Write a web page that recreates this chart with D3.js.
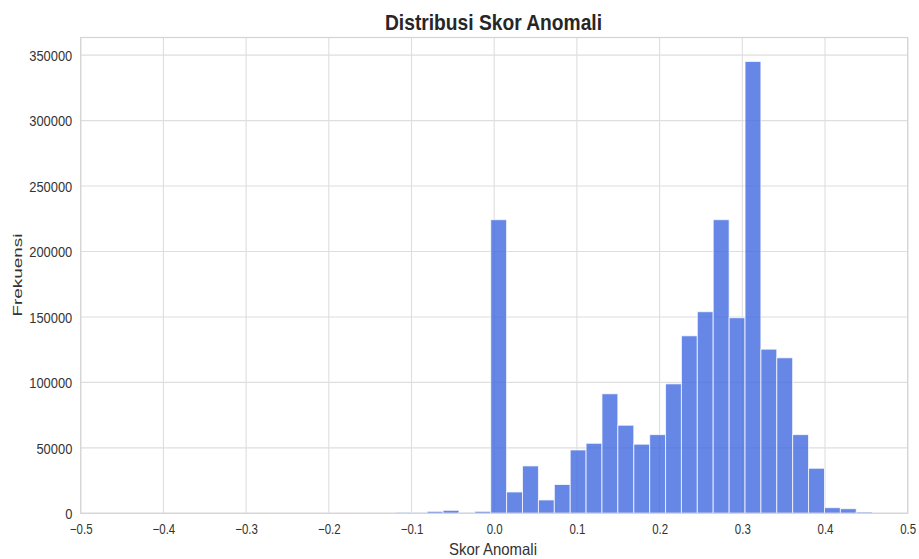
<!DOCTYPE html>
<html>
<head>
<meta charset="utf-8">
<script src="https://cdn.jsdelivr.net/npm/d3@7"></script>
<style>
  body { margin: 0; background: #fff; }
  svg { display: block; }
  text { font-family: "Liberation Sans", Arial, sans-serif; }
</style>
</head>
<body>
<svg id="chart" width="919" height="559"></svg>
<script>
// Histogram bin edges (30 equal bins) and the count in each bin
const binEdges = [-0.1195, -0.1003, -0.0811, -0.0618, -0.0426, -0.0234, -0.0042, 0.0150,
  0.0342, 0.0535, 0.0727, 0.0919, 0.1111, 0.1303, 0.1495, 0.1688, 0.1880, 0.2072,
  0.2264, 0.2456, 0.2648, 0.2841, 0.3033, 0.3225, 0.3417, 0.3609, 0.3801, 0.3994,
  0.4186, 0.4378, 0.4570];
const counts = [800, 700, 1500, 2300, 500, 1500, 224300, 16300, 36200, 10200, 22000,
  48400, 53500, 91300, 67300, 52800, 60100, 98900, 135600, 154000, 224300, 149400,
  345200, 125400, 118800, 60100, 34400, 4300, 3500, 1000];
const xTicks = [-0.5, -0.4, -0.3, -0.2, -0.1, 0.0, 0.1, 0.2, 0.3, 0.4, 0.5];
const yTicks = [0, 50000, 100000, 150000, 200000, 250000, 300000, 350000];

const title = "Distribusi Skor Anomali";
const xLabel = "Skor Anomali";
const yLabel = "Frekuensi";

const W = 919, H = 559;
const margin = { top: 37.5, right: 11.3, bottom: 45.7, left: 80.7 };
const svg = d3.select("#chart");
const iw = W - margin.left - margin.right;
const ih = H - margin.top - margin.bottom;

const x = d3.scaleLinear().domain([-0.5, 0.5]).range([0, iw]);
const y = d3.scaleLinear().domain([0, d3.max(counts) * 1.053]).range([ih, 0]);

// squeeze text horizontally to a narrow face
function condense(sel, factor) {
  sel.each(function () {
    const w = this.getComputedTextLength();
    d3.select(this).attr("textLength", w * factor).attr("lengthAdjust", "spacingAndGlyphs");
  });
}

const g = svg.append("g").attr("transform", `translate(${margin.left},${margin.top})`);

// grid lines
const gridColor = "#dedede";
g.append("g").selectAll("line").data(xTicks).join("line")
  .attr("x1", d => x(d)).attr("x2", d => x(d))
  .attr("y1", 0).attr("y2", ih)
  .attr("stroke", gridColor).attr("stroke-width", 1.1);
g.append("g").selectAll("line").data(yTicks).join("line")
  .attr("x1", 0).attr("x2", iw)
  .attr("y1", d => y(d)).attr("y2", d => y(d))
  .attr("stroke", gridColor).attr("stroke-width", 1.1);

// bars
const bins = counts.map((c, i) => ({ x0: binEdges[i], x1: binEdges[i + 1], n: c }));
g.append("g").selectAll("rect").data(bins).join("rect")
  .attr("x", d => x(d.x0))
  .attr("width", d => x(d.x1) - x(d.x0))
  .attr("y", d => y(d.n))
  .attr("height", d => y(0) - y(d.n))
  .attr("fill", "#4169e1").attr("fill-opacity", 0.8)
  .attr("stroke", "#ffffff").attr("stroke-opacity", 0.75).attr("stroke-width", 1);

// frame
g.append("rect").attr("x", 0).attr("y", 0).attr("width", iw).attr("height", ih)
  .attr("fill", "none").attr("stroke", "#d4d4d4").attr("stroke-width", 1.2);

// axes
const fmtX = d => d3.format(".1f")(d).replace("-", "\u2212");
const xAxis = g.append("g").attr("transform", `translate(0,${ih})`)
  .call(d3.axisBottom(x).tickValues(xTicks).tickFormat(fmtX).tickSize(0).tickPadding(0));
xAxis.select(".domain").remove();
xAxis.selectAll("text").attr("y", 21.2).attr("dy", null)
  .attr("font-size", 14).attr("fill", "#333").attr("font-family", "Liberation Sans, Arial, sans-serif")
  .call(condense, 0.82);

const yAxis = g.append("g")
  .call(d3.axisLeft(y).tickValues(yTicks).tickFormat(d3.format("d")).tickSize(0).tickPadding(0));
yAxis.select(".domain").remove();
yAxis.selectAll("text").attr("x", -8.4).attr("dy", "0.35em")
  .attr("font-size", 15).attr("fill", "#333").attr("font-family", "Liberation Sans, Arial, sans-serif")
  .call(condense, 0.86);

// labels
svg.append("text").attr("x", 493.5).attr("y", 30).attr("text-anchor", "middle")
  .attr("font-size", 22).attr("font-weight", "bold").attr("fill", "#262626")
  .attr("textLength", 217).attr("lengthAdjust", "spacingAndGlyphs")
  .text(title);
svg.append("text").attr("x", 493).attr("y", 555).attr("text-anchor", "middle")
  .attr("font-size", 16.5).attr("fill", "#333")
  .attr("textLength", 88).attr("lengthAdjust", "spacingAndGlyphs")
  .text(xLabel);
svg.append("text").attr("transform", "translate(21.5,275) rotate(-90)")
  .attr("text-anchor", "middle").attr("font-size", 13.5).attr("fill", "#333")
  .attr("textLength", 83).attr("lengthAdjust", "spacingAndGlyphs")
  .text(yLabel);
</script>
</body>
</html>
